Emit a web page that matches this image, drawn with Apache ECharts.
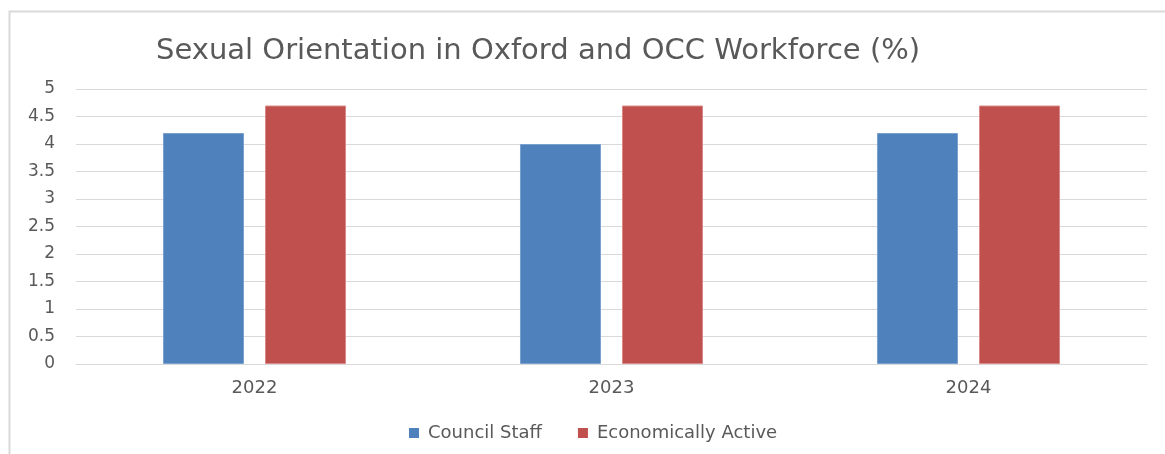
<!DOCTYPE html>
<html><head><meta charset="utf-8">
<script src="https://cdn.jsdelivr.net/npm/echarts@6/dist/echarts.min.js"></script>
<style>html,body{margin:0;padding:0;background:#fff}#c{width:1165px;height:454px}</style>
</head><body><div id="c"></div>
<script>
const categories = ['2022', '2023', '2024'];
const councilStaff = [4.2, 4.0, 4.2];
const economicallyActive = [4.7, 4.7, 4.7];
const seriesNames = ['Council Staff', 'Economically Active'];
const titleText = 'Sexual Orientation in Oxford and OCC Workforce (%)';

const FONT = '"DejaVu Sans", sans-serif';
const chart = echarts.init(document.getElementById('c'), null, {renderer: 'canvas'});
chart.setOption({
  animation: false,
  graphic: [{
    type: 'rect', left: 7, top: 9, silent: true,
    shape: {width: 1200, height: 500},
    style: {fill: 'none', stroke: '#d9d9d9', lineWidth: 2}
  }, {
    type: 'text', left: 156, top: 37, silent: true,
    style: {text: titleText, font: '29px ' + FONT, fill: '#595959'}
  }],
  legend: {
    top: 419, left: 404,
    itemWidth: 10, itemHeight: 10, itemGap: 36, icon: 'rect',
    itemStyle: {borderWidth: 0},
    textStyle: {fontFamily: FONT, fontSize: 18, color: '#595959', padding: [0, 0, 0, 4]},
    data: seriesNames
  },
  grid: {left: 76, right: 18, top: 89, bottom: 90},
  xAxis: {
    type: 'category', data: categories,
    axisLine: {lineStyle: {color: '#d9d9d9'}},
    axisTick: {show: false},
    axisLabel: {fontFamily: FONT, fontSize: 18, color: '#595959', margin: 15}
  },
  yAxis: {
    type: 'value', min: 0, max: 5, interval: 0.5,
    axisLine: {show: false}, axisTick: {show: false},
    splitLine: {lineStyle: {color: '#d9d9d9', width: 1}},
    axisLabel: {fontFamily: FONT, fontSize: 17, color: '#595959', margin: 21}
  },
  series: [{
    name: seriesNames[0], type: 'bar', data: councilStaff,
    barWidth: 81, barGap: '26%',
    itemStyle: {color: '#4f81bd', borderColor: '#7aa0d0', borderWidth: 1}
  }, {
    name: seriesNames[1], type: 'bar', data: economicallyActive,
    barWidth: 81,
    itemStyle: {color: '#c0504d', borderColor: '#d98a88', borderWidth: 1}
  }]
});
</script></body></html>
